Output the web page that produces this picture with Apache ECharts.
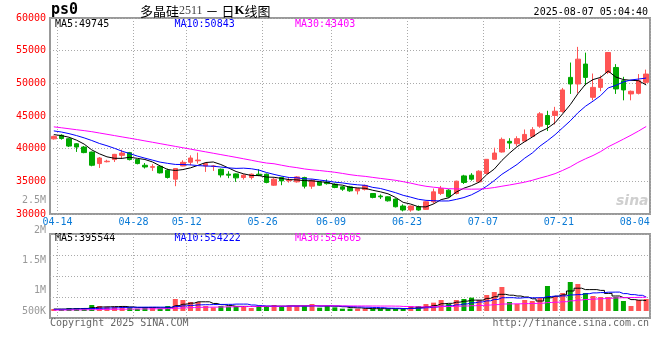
<!DOCTYPE html>
<html><head><meta charset="utf-8">
<script src="https://cdn.jsdelivr.net/npm/echarts/dist/echarts.min.js"></script>
<style>html,body{margin:0;padding:0;background:#fff}#c{width:660px;height:360px}</style>
</head><body><div id="c"></div>
<script>
const dates = ['04-11','04-14','04-15','04-16','04-17','04-18','04-21','04-22','04-23','04-24','04-25','04-28','04-29','04-30',
'05-06','05-07','05-08','05-09','05-12','05-13','05-14','05-15','05-16','05-19','05-20','05-21','05-22','05-23','05-26','05-27','05-28','05-29','05-30',
'06-03','06-04','06-05','06-06','06-09','06-10','06-11','06-12','06-13','06-16','06-17','06-18','06-19','06-20','06-23','06-24','06-25','06-26','06-27','06-30',
'07-01','07-02','07-03','07-04','07-07','07-08','07-09','07-10','07-11','07-14','07-15','07-16','07-17','07-18','07-21','07-22','07-23','07-24','07-25','07-28','07-29','07-30','07-31',
'08-01','08-04','08-05'];
const opens  = [41500,42050,41520,40750,40250,39480,37720,38000,38330,38980,39390,38330,37460,37150,37300,36700,35330,37350,37920,38150,
37350,37300,36850,36090,36140,35590,35590,36090,36090,34410,35590,35100,34920,35590,34260,34920,34900,34570,34160,34160,
33540,33760,33140,32750,32630,32280,31220,30610,31110,30710,31870,33150,33650,33140,35830,35940,34920,36200,38370,39490,
41120,40760,41160,41880,43450,45080,45080,45680,50910,49900,52950,47860,49380,51670,52430,50400,48380,48470,50150];
const closes = [41880,41550,40400,40250,39400,37460,38570,38080,39130,39330,38330,37720,37200,37250,36290,35590,36960,37910,38570,38250,
37720,37350,35980,35940,35530,35940,36090,35900,34830,35330,35070,35200,35680,34260,35180,34410,34650,34060,33800,33540,
33910,34370,32540,32630,32020,31110,30610,31220,30610,31870,33390,33900,32630,35020,34830,35330,36550,38370,39330,41420,
40860,41530,42180,42900,45330,43700,45730,48990,49900,53700,50910,49380,50660,54720,49140,48990,48780,50400,51420];
const lows   = [41400,41380,40250,39500,39300,37300,37050,37900,37960,38480,38200,37600,36960,36590,36200,35430,34260,37300,37460,37720,
36440,36590,35590,35480,34920,35280,35280,35790,34700,34300,34410,34800,34800,33910,33850,34300,34500,33950,33540,33400,
33000,33600,32400,32300,31900,31000,30400,30350,30500,30610,31600,32900,32500,33000,34600,35100,34900,36090,38300,39400,
39950,40400,41100,41800,43200,42700,43700,45500,48380,48470,49700,47400,48800,51420,48380,47400,47400,48300,49900];
const highs  = [42000,42200,41600,40850,40400,39550,38720,38300,39200,39850,39500,38400,37800,37620,37400,36950,37000,38220,38980,39390,
37900,37500,36950,36550,36200,36090,36200,36850,36200,35500,35700,35600,35800,35700,35300,35000,35300,34700,34300,34300,
34000,34500,33200,33000,32700,32400,31480,31300,31300,31950,33900,34300,33800,35100,36000,36250,36700,38400,40150,41700,
41600,41900,42940,43300,45600,45800,46400,49300,53180,55580,54700,51500,51200,54800,52940,51000,48900,51420,52100];
const volumes = [84000,70000,126000,126000,126000,252000,210000,168000,168000,154000,154000,98000,154000,154000,98000,210000,504000,462000,378000,378000,
210000,154000,210000,182000,210000,210000,126000,210000,210000,252000,210000,210000,210000,210000,294000,140000,210000,154000,98000,98000,
98000,98000,98000,98000,98000,98000,98000,210000,210000,294000,350000,462000,294000,462000,504000,560000,462000,672000,798000,1008000,
378000,294000,462000,420000,546000,1050000,630000,756000,1218000,1134000,756000,630000,588000,588000,588000,420000,210000,462000,504000];
// moving-average values for the first days (window reaches before the chart)
const ma5Head  = [42150,42000,41750,41300];
const ma10Head = [42720,42550,42300,42000,41650,41250,40800,40450,40050];
const ma30Head = [43340,43200,43050,42900,42760,42600,42400,42200,42000,41800,41600,41400,41190,40980,40770,40560,40350,40140,39930,39720,
39510,39300,39090,38880,38670,38450,38230,38000,37800];
const volMa5Head  = [80000,80000,90000,100000];
const volMa10Head = [70000,72000,78000,85000,92000,105000,115000,125000,135000];
const volMa30Head = [38000,40000,44000,47000,51000,58000,64000,69000,74000,78000,83000,85000,89000,93000,95000,101000,117000,131000,143000,154000,
160000,164000,170000,175000,181000,187000,190000,196000,200000];
const volTickValues = [500000,1000000,1500000,2000000,2500000];
const volTickLabels = ['500K','1M','1.5M','2M','2.5M'];
const axisDates = ['04-14','04-28','05-12','05-26','06-09','06-23','07-07','07-21','08-04'];
const gridDates = ['04-14','04-28','05-12','05-26','06-09','06-23','07-07','07-21'];
const priceLegend = ['MA5:49745','MA10:50843','MA30:43403'];
const volLegend = ['MA5:395544','MA10:554222','MA30:554605'];
const titleParts = ['多晶硅','2511',' － 日','K','线图'];
const codeText = 'ps0';
const timeText = '2025-08-07 05:04:40';
const copyText = 'Copyright 2025 SINA.COM';
const urlText = 'http://finance.sina.com.cn';

function movingAverage(values, n, head) {
  return values.map((v, i) => {
    if (i < n - 1) return head[i];
    let s = 0;
    for (let j = i - n + 1; j <= i; j++) s += values[j];
    return Math.round(s / n);
  });
}

const RED = '#ff5555', GREEN = '#00a800';
const MONO = '"DejaVu Sans Mono", monospace';
const gridLine = { show: true, lineStyle: { color: '#aaa', type: [1, 2], width: 1 } };
const lineColors = ['#000000', '#0000ff', '#ff00ff'];

const chart = echarts.init(document.getElementById('c'), null, { renderer: 'canvas' });
const kData = dates.map((d, i) => [opens[i], closes[i], lows[i], highs[i]]);
const priceMAs = [movingAverage(closes, 5, ma5Head), movingAverage(closes, 10, ma10Head), movingAverage(closes, 30, ma30Head)];
const volMAs = [movingAverage(volumes, 5, volMa5Head), movingAverage(volumes, 10, volMa10Head), movingAverage(volumes, 30, volMa30Head)];

function legendTexts(items, y) {
  const xs = [55, 174.5, 295];
  return items.map((t, i) => ({
    type: 'text', x: xs[i], y: y, silent: true,
    style: { text: t, fill: lineColors[i], font: '10px ' + MONO, textAlign: 'left', textVerticalAlign: 'middle', align: 'left', verticalAlign: 'middle' }
  }));
}

const option = {
  animation: false,
  backgroundColor: '#fff',
  grid: [
    { left: 50, right: 10, top: 18, height: 196, show: true, borderColor: '#999', borderWidth: 2, backgroundColor: 'transparent' },
    { left: 50, right: 10, top: 234, height: 84, show: true, borderColor: '#999', borderWidth: 2, backgroundColor: 'transparent' },
    { left: 50, right: 10, top: 200, height: 120, show: false }
  ],
  xAxis: [
    { type: 'category', gridIndex: 0, data: dates, boundaryGap: true,
      axisLine: { show: false }, axisTick: { show: false },
      axisLabel: { interval: (i, v) => axisDates.indexOf(v) >= 0, color: '#0a7ad6', fontFamily: MONO, fontSize: 10, margin: 3, padding: [0, 7.6, 0, 0] },
      splitLine: { show: true, interval: (i, v) => gridDates.indexOf(v) >= 0, lineStyle: gridLine.lineStyle } },
    { type: 'category', gridIndex: 1, data: dates, boundaryGap: true,
      axisLine: { show: false }, axisTick: { show: false }, axisLabel: { show: false },
      splitLine: { show: true, interval: (i, v) => gridDates.indexOf(v) >= 0, lineStyle: gridLine.lineStyle } },
    { type: 'value', gridIndex: 2, show: false, min: 0, max: 1 }
  ],
  yAxis: [
    { type: 'value', gridIndex: 0, min: 30000, max: 60000, interval: 5000,
      axisLine: { show: false }, axisTick: { show: false },
      axisLabel: { color: '#ff0000', fontFamily: MONO, fontSize: 10, margin: 4, padding: [0, 0, 3, 0], formatter: (v) => String(v) },
      splitLine: gridLine },
    { type: 'value', gridIndex: 1, min: -294000, max: 3234000, show: false },
    { type: 'value', gridIndex: 1, min: 0, max: 4, interval: 1, inverse: true, position: 'right',
      axisLine: { show: false }, axisTick: { show: false }, axisLabel: { show: false }, splitLine: gridLine },
    { type: 'value', gridIndex: 2, min: 500000, max: 2500000, interval: 500000,
      axisLine: { show: false }, axisTick: { show: false }, splitLine: { show: false },
      axisLabel: { color: '#999', fontFamily: MONO, fontSize: 10, margin: 4,
        formatter: (v) => { const k = volTickValues.indexOf(v); if (k < 0) return ''; return k === 0 ? '{lo|' + volTickLabels[k] + '}' : volTickLabels[k]; },
        rich: { lo: { padding: [0, 0, 18, 0], color: '#999', fontFamily: MONO, fontSize: 10 } } } }
  ],
  series: [
    { type: 'candlestick', xAxisIndex: 0, yAxisIndex: 0, data: kData, barWidth: 5,
      itemStyle: { color: RED, color0: GREEN, borderColor: RED, borderColor0: GREEN, borderWidth: 1 } },
    ...priceMAs.map((d, i) => ({ type: 'line', xAxisIndex: 0, yAxisIndex: 0, data: d, symbol: 'none',
      lineStyle: { color: lineColors[i], width: 1 }, z: 3 })),
    { type: 'bar', xAxisIndex: 1, yAxisIndex: 1, data: volumes.map((v, i) => ({ value: v, itemStyle: { color: closes[i] >= opens[i] ? RED : GREEN } })), barWidth: 5 },
    ...volMAs.map((d, i) => ({ type: 'line', xAxisIndex: 1, yAxisIndex: 1, data: d, symbol: 'none', step: 'middle',
      lineStyle: { color: lineColors[i], width: 1 }, z: 3 }))
  ],
  graphic: [
    { type: 'text', x: 51, y: 10.5, silent: true,
      style: { text: codeText, fill: '#000', font: 'bold 15px ' + MONO, textVerticalAlign: 'middle', verticalAlign: 'middle' } },
    { type: 'text', x: 140, y: 11, silent: true,
      style: { text: '{a|' + titleParts[0] + '}{n|' + titleParts[1] + '}{a|' + titleParts[2] + '}{k|' + titleParts[3] + '}{a|' + titleParts[4] + '}',
        textVerticalAlign: 'middle', verticalAlign: 'middle',
        rich: {
          a: { fontFamily: '"Noto Sans CJK SC"', fontSize: 13, fill: '#000', color: '#000' },
          n: { fontFamily: '"Liberation Serif"', fontSize: 12, fill: '#444', color: '#444' },
          k: { fontFamily: '"Liberation Serif"', fontSize: 13, fontWeight: 'bold', fill: '#000', color: '#000' }
        } } },
    { type: 'text', x: 648, y: 12.5, silent: true,
      style: { text: timeText, fill: '#000', font: '10px ' + MONO, textAlign: 'right', align: 'right', textVerticalAlign: 'middle', verticalAlign: 'middle' } },
    ...legendTexts(priceLegend, 24),
    ...legendTexts(volLegend, 238.7),
    { type: 'text', x: 50, y: 323, silent: true,
      style: { text: copyText, fill: '#666', font: '10px ' + MONO, textVerticalAlign: 'middle', verticalAlign: 'middle' } },
    { type: 'text', x: 649, y: 323, silent: true,
      style: { text: urlText, fill: '#666', font: '10px ' + MONO, textAlign: 'right', align: 'right', textVerticalAlign: 'middle', verticalAlign: 'middle' } },
    { type: 'text', x: 616, y: 201, silent: true, z: 0,
      style: { text: 'sina', fill: '#cfcfcf', font: 'italic bold 14px "DejaVu Sans", sans-serif', textVerticalAlign: 'middle', verticalAlign: 'middle' } }
  ]
};
chart.setOption(option);
</script>
</body></html>
